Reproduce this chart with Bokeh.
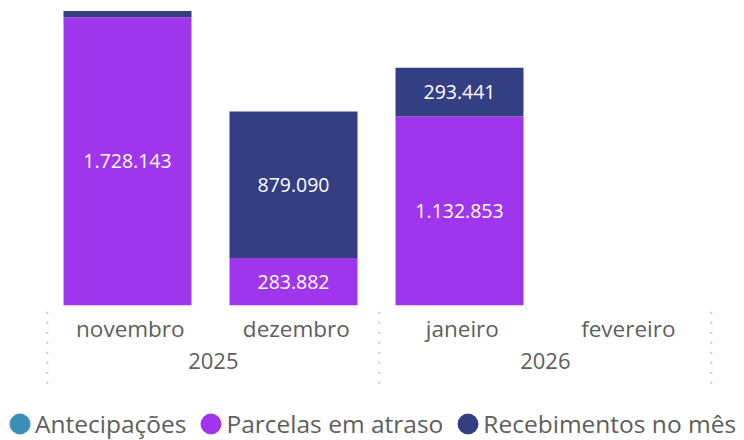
import numpy as np
from bokeh.plotting import figure
from bokeh.models import FactorRange, Range1d, ColumnDataSource, Legend, LegendItem
from bokeh.core.properties import value
from bokeh.embed import file_html
from bokeh.resources import INLINE

# ---- data ----
years = ["2025", "2025", "2026", "2026"]
months = ["novembro", "dezembro", "janeiro", "fevereiro"]
antecipacoes = [0, 0, 0, 0]
parcelas = [1728143, 283882, 1132853, 0]
recebimentos = [38000, 879090, 293441, 0]
series = ["Antecipações", "Parcelas em atraso", "Recebimentos no mês"]
colors = ["#3A8FB7", "#A035EE", "#343E83"]

FONT = "Open Sans"
UNIT = 6004.0          # value per pixel
H = 440
BASE_PX = 304.7        # baseline pixel from frame top
STEP = 166.0           # px per category
LEFT = 8
AX_OFF = 0.017         # axis decorations sit slightly right of the bar slots

factors = list(zip(years, months))
frame_w = 744 - LEFT
pad = (frame_w / STEP - len(factors)) / len(factors)
x_range = FactorRange(*factors, factor_padding=0, group_padding=0,
                      range_padding=pad, range_padding_units="percent")
y_end = BASE_PX * UNIT
y_start = -(H - BASE_PX) * UNIT

p = figure(width=744, height=H, x_range=x_range, y_range=Range1d(y_start, y_end),
           output_backend="svg", toolbar_location=None, title=None,
           min_border_left=LEFT, min_border_right=0, min_border_top=0, min_border_bottom=0)
p.xaxis.visible = False
p.yaxis.visible = False
p.xgrid.visible = False
p.ygrid.visible = False
p.outline_line_color = None
p.background_fill_color = "white"
p.border_fill_color = "white"

src = ColumnDataSource(dict(x=factors, a=antecipacoes, b=parcelas, c=recebimentos))
p.vbar_stack(["a", "b", "c"], x="x", width=0.771, source=src, color=colors, line_color=None)

# data labels (centered in each segment)
vals = np.array([antecipacoes, parcelas, recebimentos], dtype=float)
bottoms = np.vstack([np.zeros(4), np.cumsum(vals, axis=0)[:-1]])
lx, ly, lt = [], [], []
for s in range(3):
    for i in range(4):
        v = vals[s, i]
        if v / UNIT > 30:
            lx.append(factors[i])
            ly.append(float(bottoms[s, i] + v / 2))
            lt.append(f"{int(v):,}".replace(",", "."))
p.text(x=lx, y=ly, text=lt, text_align="center", text_baseline="middle",
       text_font=value(FONT), text_font_size="19.5px", text_color="white")

# category labels
mx = [(y_, m_, AX_OFF) for y_, m_ in factors]
p.text(x=mx, y=[-23.5 * UNIT] * 4, text=months, text_align="center", text_baseline="middle",
       text_font=value(FONT), text_font_size="22.5px", text_color="#605E5C")
uyears = ["2025", "2026"]
ypos = [("2025", "novembro", 0.5 + AX_OFF), ("2026", "janeiro", 0.5 + AX_OFF)]
p.text(x=ypos, y=[-55.5 * UNIT] * 2, text=uyears, text_align="center", text_baseline="middle",
       text_font=value(FONT), text_font_size="22px", text_color="#605E5C")

# group separators
sx = [("2025", "novembro", -0.5 + AX_OFF), ("2026", "janeiro", -0.5 + AX_OFF),
      ("2026", "fevereiro", 0.5 + AX_OFF)]
p.segment(x0=sx, x1=sx, y0=[-6.5 * UNIT] * 3, y1=[-79 * UNIT] * 3,
          line_color="#C8C8C8", line_width=2, line_dash="2 8")

# legend with round markers (dummy ellipse renderers outside the visible range;
# an ellipse fills 80% of the legend glyph box, so 25px box -> 20px circle)
dummies = []
for name, col in zip(series, colors):
    r = p.ellipse(x=[factors[3]], y=[y_end * 10], width=20, height=20,
                  width_units="screen", height_units="screen", color=col)
    dummies.append(LegendItem(label=name, renderers=[r]))
legend = Legend(items=dummies, orientation="horizontal", location=(-1, 0),
                label_text_font=FONT, label_text_font_size="24.5px", label_text_color="#605E5C",
                glyph_width=25, glyph_height=25, label_standoff=3, spacing=12,
                padding=0, margin=0, border_line_color=None, background_fill_alpha=0)
p.add_layout(legend)

open("out.html", "w").write(file_html(p, INLINE))
